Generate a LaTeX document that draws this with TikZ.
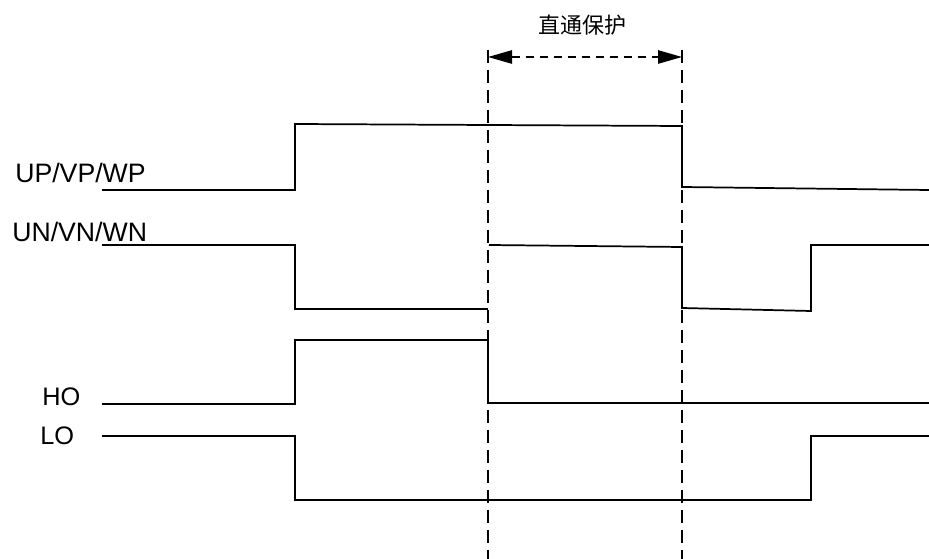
\documentclass[tikz,border=0pt]{standalone}
\usepackage{fontspec}
\setmainfont{Liberation Sans}
\newfontfamily\cjk{Noto Sans CJK SC}
\usetikzlibrary{arrows.meta}
\begin{document}
\begin{tikzpicture}[x=0.75pt,y=-0.75pt,
  sig/.style={line width=1.3pt,line join=miter},
  guide/.style={line width=1.2pt,dash pattern=on 10pt off 5pt},
  span/.style={line width=1.2pt,dash pattern=on 6pt off 4.5pt,
    {Triangle[length=18pt,width=10pt]}-{Triangle[length=18pt,width=10pt]}},
  lab/.style={anchor=base west,inner sep=0pt,font=\fontsize{20}{24}\selectfont},
  labs/.style={anchor=base west,inner sep=0pt,font=\fontsize{19}{23}\selectfont}]
\useasboundingbox (0,0) rectangle (929,559);
% guides
\coordinate (g1t) at (488,50); \coordinate (g1b) at (488,559);
\coordinate (g2t) at (682,50); \coordinate (g2b) at (682,559);
\draw[guide] (g1t) -- (g1b);
\draw[guide] (g2t) -- (g2b);
\draw[span] (488,57) -- (682,57);
\node[inner sep=0pt,font=\cjk\fontsize{16.5}{20}\selectfont] (title) at (582,25) {直通保护};
% labels
\node[lab] (lup) at (15,183) {UP/VP/WP};
\node[lab] (lun) at (12,242) {UN/VN/WN};
\node[labs] (lho) at (42,406) {HO};
\node[labs] (llo) at (40,445) {LO};
% UP
\draw[sig] (102,190) -- (295,190) -- (295,124) -- (682,126) -- (682,187) -- (929,190);
% UN
\draw[sig] (102,245) -- (295,245) -- (295,309) -- (488,309);
\draw[sig] (489,245) -- (682,247) -- (682,308) -- (811,311) -- (811,245) -- (929,245);
% HO
\draw[sig] (102,404) -- (295,404) -- (295,340) -- (488,340) -- (488,403) -- (929,403);
% LO
\draw[sig] (102,436) -- (295,436) -- (295,500) -- (811,500) -- (811,436) -- (929,436);
\end{tikzpicture}
\end{document}
